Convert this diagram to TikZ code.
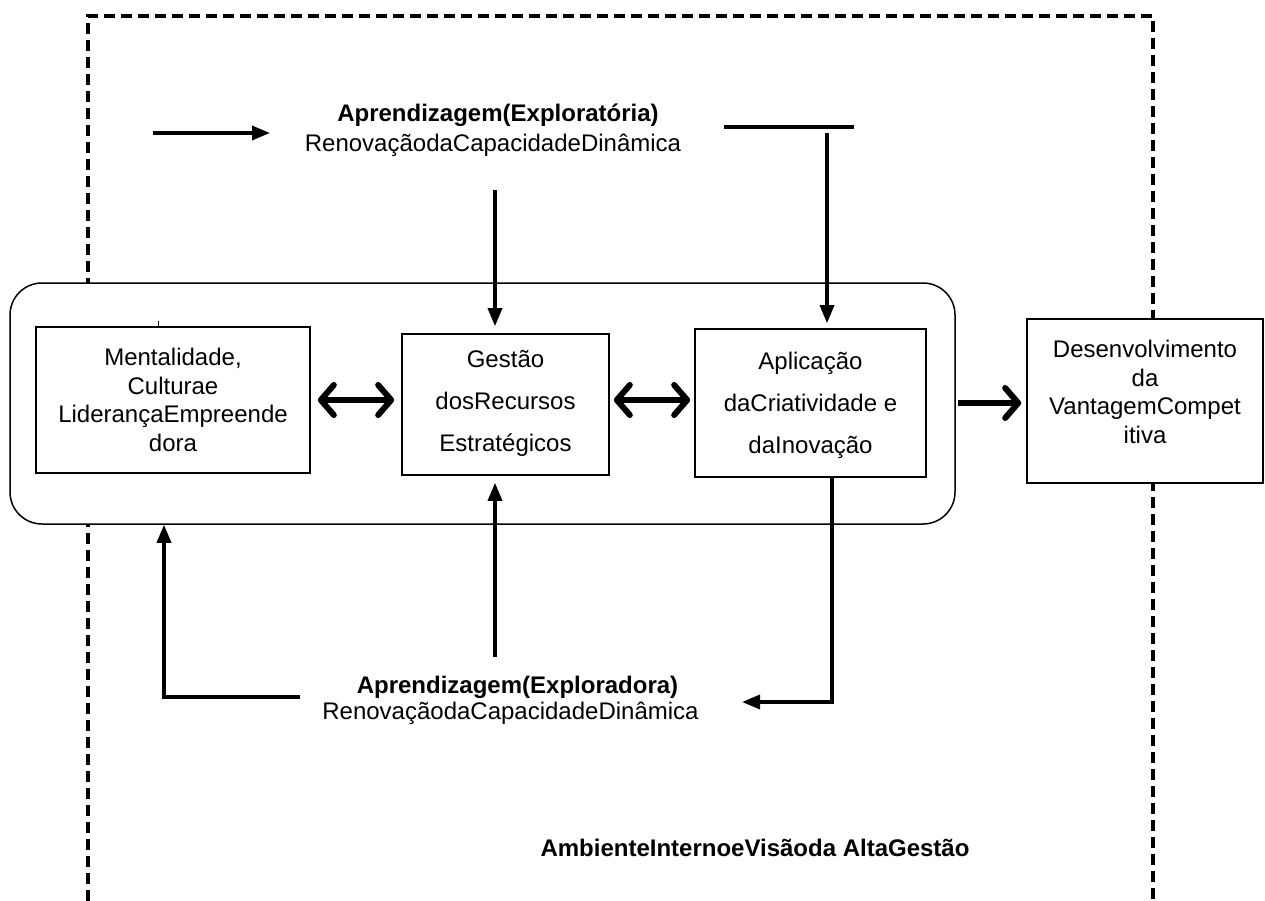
\documentclass[tikz,border=0pt]{standalone}
\usepackage{fontspec}
\setmainfont{Liberation Sans}
\usetikzlibrary{arrows.meta}
\begin{document}
\begin{tikzpicture}[x=1pt,y=-1pt,
  txt/.style={font=\fontsize{24}{28.5}\selectfont, inner sep=0pt, align=center},
  wide/.style={font=\fontsize{24}{42}\selectfont, inner sep=0pt, align=center},
  btxt/.style={font=\fontsize{24}{28.5}\selectfont\bfseries, inner sep=0pt},
  box/.style={draw, line width=1.6pt, fill=white, inner sep=0pt},
  frame/.style={line width=3.5pt, dash pattern=on 11pt off 6pt},
  flow/.style={line width=3.3pt, -{Triangle[length=18pt,width=14pt]}},
  heavy/.style={line width=6pt, -{Straight Barb[length=13pt,width=30pt,round]}},
  both/.style={line width=6pt, {Straight Barb[length=13pt,width=30pt,round]}-{Straight Barb[length=13pt,width=30pt,round]}}
]
\useasboundingbox (0,0) rectangle (1265,901);

% outer dashed frame, open at the bottom
\coordinate (fl) at (88,901);
\coordinate (ftl) at (88,16);
\coordinate (ftr) at (1153,16);
\coordinate (fr) at (1153,901);
\draw[frame] (fl) -- (ftl) -- (ftr) -- (fr);

% rounded group of the three capabilities
\node[draw, line width=1.5pt, fill=white, rounded corners=32pt,
      minimum width=945pt, minimum height=241pt] (grp) at (482.5,403.5) {};

% small tick above the first box
\draw[line width=0.8pt] (158,321) -- (158,327);

% boxes
\node[box, minimum width=274pt, minimum height=146pt] (m) at (173,400) {};
\node[txt] (mt) at (173,400) {Mentalidade,\\Culturae\\LiderançaEmpreende\\dora};

\node[box, minimum width=207pt, minimum height=141pt] (g) at (505.5,404.5) {};
\node[wide] (gt) at (505.5,403) {Gestão\\dosRecursos\\Estratégicos};

\node[box, minimum width=231pt, minimum height=148pt] (a) at (810.5,403) {};
\node[wide] (at) at (810.5,405) {Aplicação\\daCriatividade e\\daInovação};

\node[box, minimum width=236pt, minimum height=164pt] (d) at (1145,401) {};
\node[txt] (dt) at (1145,392) {Desenvolvimento\\da\\VantagemCompet\\itiva};

% thick links between the boxes
\draw[both, shorten <=7pt, shorten >=7pt] (m.east |- 0,400) -- (g.west |- 0,400);
\draw[both, shorten <=4pt, shorten >=4pt] (g.east |- 0,400) -- (a.west |- 0,400);
\draw[heavy, shorten <=2pt, shorten >=5pt] (grp.east |- 0,403) -- (d.west |- 0,403);

% exploratory learning (top)
\node[btxt] (t1) at (498,115) {Aprendizagem(Exploratória)};
\node[txt] (t2) at (493,145) {RenovaçãodaCapacidadeDinâmica};
\coordinate (tl1) at (153,133);
\coordinate (tl2) at (270,133);
\draw[flow] (tl1) -- (tl2);
\coordinate (tm) at (495,190);
\draw[flow, shorten >=7pt] (tm) -- (tm |- g.north);
\coordinate (tr1) at (724,127);
\coordinate (tr2) at (854,127);
\draw[line width=4pt] (tr1) -- (tr2);
\coordinate (trd) at (827,133);
\draw[flow, shorten >=5pt] (trd) -- (trd |- a.north);

% exploratory-creative learning (bottom)
\node[btxt] (b1) at (517.5,687) {Aprendizagem(Exploradora)};
\node[txt] (b2) at (510.5,713) {RenovaçãodaCapacidadeDinâmica};
\coordinate (bm) at (495,657);
\draw[flow, shorten >=7pt] (bm) -- (bm |- g.south);
\coordinate (bx) at (832,702);
\coordinate (br) at (742,702);
\draw[flow] (bx |- a.south) -- (bx) -- (br);
\coordinate (bl1) at (300,697);
\coordinate (bl2) at (164,697);
\draw[flow] (bl1) -- (bl2) -- (bl2 |- grp.south);

% caption of the frame
\node[btxt] (amb) at (755,848) {AmbienteInternoeVisãoda AltaGestão};
\end{tikzpicture}
\end{document}
